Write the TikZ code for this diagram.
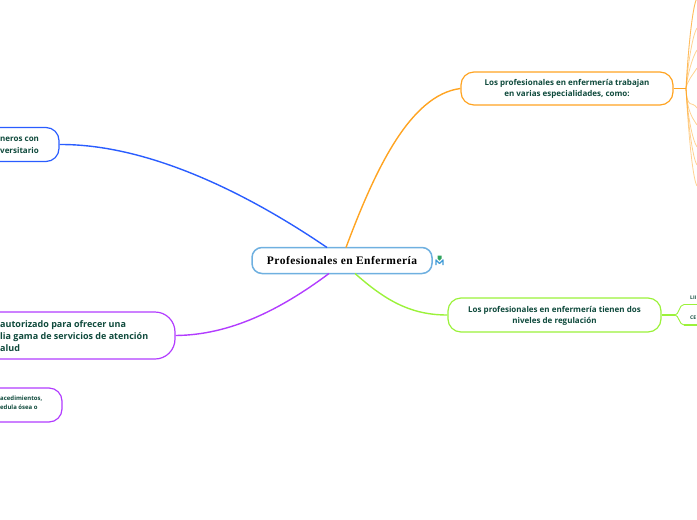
\documentclass[tikz,border=0pt]{standalone}
\usepackage{fontspec}
\setmainfont{Open Sans}
\newfontfamily\rootfont[LetterSpace=4]{Liberation Serif}
\definecolor{inktxt}{HTML}{0F4A3C}
\definecolor{cblue}{HTML}{2A5DFF}
\definecolor{corange}{HTML}{FFA422}
\definecolor{cgreen}{HTML}{9BF23A}
\definecolor{cpurple}{HTML}{B23CFF}
\definecolor{croot}{HTML}{6FB0E0}
\definecolor{iconblue}{HTML}{3F9AD6}
\definecolor{icongreen}{HTML}{2FA35F}
\tikzset{
  box/.style={draw,fill=white,line width=1.2pt,rounded corners=13pt,inner sep=0pt},
  lbl/.style={font=\bfseries\fontsize{8}{11.2}\selectfont,text=inktxt,align=center,inner sep=0pt},
  link/.style={line width=1.4pt},
  fan/.style={corange,line width=.8pt,opacity=.5},
}
\begin{document}
\begin{tikzpicture}[x=1pt,y=-1pt]
\useasboundingbox (0,0) rectangle (697,520);
\clip (0,0) rectangle (697,520);
\coordinate (rb) at (327,247.5);
\coordinate (ro) at (346,247.5);
\coordinate (rp) at (329,273.5);
\coordinate (rg) at (355,273.5);
% boxes
\node[box,draw=croot,line width=1.5pt,minimum width=180pt,minimum height=26pt,rounded corners=10pt] (root) at (342,260.5) {};
\node[font=\rootfont\bfseries\fontsize{11.5}{12}\selectfont,text=black,inner sep=0pt] (roottxt) at (342,260.5) {Profesionales en Enfermería};
\node[box,draw=corange,minimum width=212pt,minimum height=33pt] (or) at (567,88.5) {};
\node[lbl] (ortxt) at (567,89.2) {Los profesionales en enfermería trabajan\\en varias especialidades, como:};
\node[box,draw=cgreen,minimum width=213pt,minimum height=34pt] (gr) at (554.5,315) {};
\node[lbl] (grtxt) at (554.5,316) {Los profesionales en enfermería tienen dos\\niveles de regulación};
\node[box,draw=cblue,minimum width=179pt,minimum height=34pt] (bl) at (-30.5,144.5) {};
\node[lbl,anchor=west] (bltxt) at (0,145.2) {\begin{tabular}{@{}l@{}}neros con\\versitario\end{tabular}};
\node[box,draw=cpurple,rounded corners=20pt,minimum width=255pt,minimum height=47pt] (pu) at (47.5,335.5) {};
\node[lbl,anchor=west,font=\bfseries\fontsize{9}{12}\selectfont] (putxt) at (0,336.8) {\begin{tabular}{@{}l@{}}autorizado para ofrecer una\\lia gama de servicios de atención\\alud\end{tabular}};
\node[box,draw=cpurple,minimum width=162pt,minimum height=34pt] (ps) at (-19,405) {};
\node[lbl,anchor=west,font=\bfseries\fontsize{6}{9}\selectfont] (pstxt) at (0,402.8) {\begin{tabular}{@{}l@{}}acedimientos,\\edula ósea o\end{tabular}};
\draw[link,cblue] (rb) .. controls (250,195) and (150,144) .. (bl.east);
\draw[link,corange] (ro) .. controls (375,170) and (410,95) .. (or.west);
\draw[link,cpurple] (rp) .. controls (280,310) and (230,335) .. (pu.east);
\draw[link,cgreen] (rg) .. controls (385,300) and (410,315) .. (gr.west);
% orange fan
\coordinate (oj) at (686,88.5);
\draw[corange,line width=1.7pt] (or.east) -- (oj);
\foreach \ey in {-2,-2,28,50,68}{
  \draw[fan] (oj) .. controls (687.5,60+\ey*0.3) and (692,\ey+8) .. (697,\ey);
}
\foreach \ey in {108,125,147,165,186}{
  \draw[fan] (oj) .. controls (687.5,100+\ey*0.1) and (692,\ey-8) .. (697,\ey);
}
% green sub-branches
\coordinate (gj) at (675,315);
\coordinate (g1) at (684,304.5);
\coordinate (g2) at (684,325);
\coordinate (g1e) at (697,304.5);
\coordinate (g2e) at (697,325);
\draw[cgreen,line width=1.4pt] (gr.east) -- (gj);
\draw[cgreen,line width=.9pt] (gj) .. controls (679,315) and (679,304.5) .. (g1);
\draw[cgreen,line width=.9pt] (gj) .. controls (679,315) and (679,325) .. (g2);
\draw[cgreen,line width=1.4pt] (g1) -- (g1e);
\draw[cgreen,line width=1.4pt] (g2) -- (g2e);
\node[font=\bfseries\fontsize{5}{6}\selectfont,text=inktxt,inner sep=0pt,anchor=west] (t1) at (690,298) {LII};
\node[font=\bfseries\fontsize{5}{6}\selectfont,text=inktxt,inner sep=0pt,anchor=west] (t2) at (690,318) {CE};
% icon
\fill[icongreen] (437.5,255.5) -- (441.5,255.5) -- (441.5,258.5) -- (439.5,260.5) -- (437.5,258.5) -- cycle;
\draw[iconblue,line width=1.4pt,line join=round] (436,265) -- (436,260) -- (439.5,263.5) -- (443,260) -- (443,265);
\end{tikzpicture}
\end{document}
